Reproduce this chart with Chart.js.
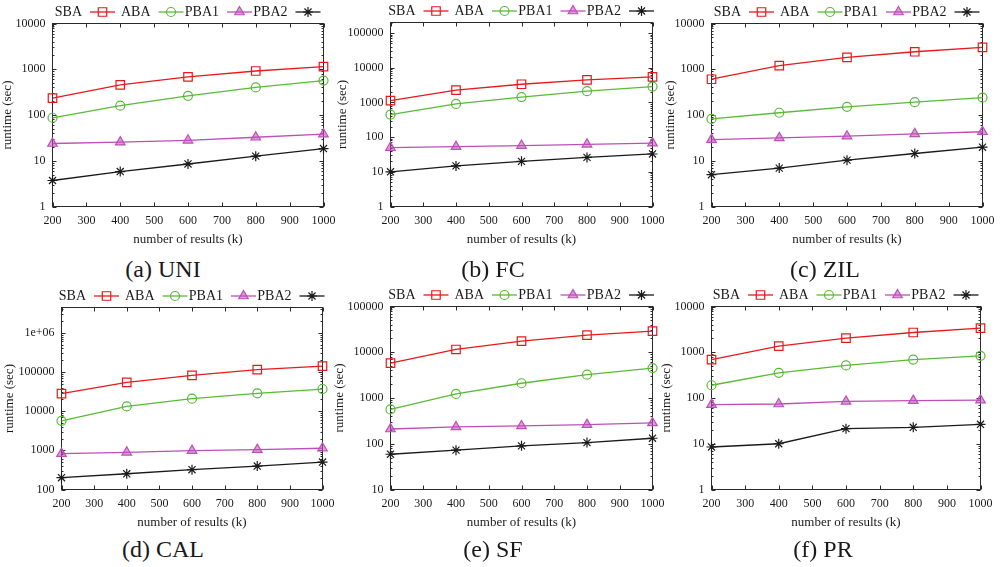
<!DOCTYPE html>
<html>
<head>
<meta charset="utf-8">
<script src="https://cdn.jsdelivr.net/npm/chart.js@4/dist/chart.umd.min.js"></script>
<style>
  body { margin: 0; background: #fff; }
  #wrap { position: relative; width: 1003px; height: 567px; overflow: hidden; background: #fff; }
  #wrap canvas { position: absolute; }
  .cap { position: absolute; font-family: "Liberation Serif", serif; font-size: 24px; color: #1a1a1a;
         transform: translate(-50%, -50%); white-space: nowrap; }
</style>
</head>
<body>
<div id="wrap"></div>
<script>
// x values and tick labels shared by all panels
const resultCounts = [200, 400, 600, 800, 1000];
const xTickValues = [200, 300, 400, 500, 600, 700, 800, 900, 1000];
const seriesNames = ['SBA', 'ABA', 'PBA1', 'PBA2'];

// (a) UNI
const uniSBA = [234, 457, 680, 915, 1140];
const uniABA = [87, 160, 263, 400, 565];
const uniPBA1 = [23.8, 25.5, 28, 32.6, 38];
const uniPBA2 = [3.7, 5.8, 8.5, 12.6, 18.5];

// (b) FC
const fcSBA = [1120, 2240, 3330, 4460, 5400];
const fcABA = [445, 900, 1420, 2100, 2850];
const fcPBA1 = [50, 53, 57, 62, 67];
const fcPBA2 = [10, 14.8, 20, 26, 32.6];

// (c) ZIL
const zilSBA = [605, 1200, 1820, 2410, 3000];
const zilABA = [82, 112, 151, 191, 239];
const zilPBA1 = [29, 31.6, 34.4, 38.6, 43];
const zilPBA2 = [4.96, 6.9, 10.3, 14.4, 19.8];

// (d) CAL
const calSBA = [27800, 54300, 81700, 115000, 140000];
const calABA = [5650, 13200, 20800, 28400, 36600];
const calPBA1 = [822, 890, 980, 1040, 1127];
const calPBA2 = [200, 252, 320, 396, 502];

// (e) SF
const sfSBA = [5770, 11500, 17500, 23700, 28900];
const sfABA = [563, 1230, 2100, 3230, 4520];
const sfPBA1 = [210, 233, 245, 262, 285];
const sfPBA2 = [59, 72.5, 90, 106, 132];

// (f) PR
const prSBA = [690, 1360, 2040, 2700, 3370];
const prABA = [190, 355, 515, 690, 835];
const prPBA1 = [71.6, 74, 84.5, 87.5, 90];
const prPBA2 = [8.5, 10, 21.4, 22.9, 26.6];

// y axis ranges
const uniRange = [1, 10000];
const fcRange = [1, 200000];
const zilRange = [1, 10000];
const calRange = [100, 4400000];
const sfRange = [10, 100000];
const prRange = [1, 10000];

const styles = [
    { color: '#e8191c', fill: 'rgba(0,0,0,0)', pointStyle: 'rect', radius: 6 },
    { color: '#58bb36', fill: 'rgba(0,0,0,0)', pointStyle: 'circle', radius: 4.5 },
    { color: '#bd4fb9', fill: 'rgba(189,79,185,0.55)', pointStyle: 'triangle', radius: 5.5 },
    { color: '#1a1a1a', fill: 'rgba(0,0,0,0)', pointStyle: 'star', radius: 5 }
];

const panels = [
    { cap: '(a) UNI', capX: 163, capY: 269, series: [uniSBA, uniABA, uniPBA1, uniPBA2], range: uniRange,
      canvasLeft: -4, canvasTop: 0, area: { left: 52.5, top: 23.5, right: 323.5, bottom: 206.5 } },
    { cap: '(b) FC', capX: 493, capY: 269, series: [fcSBA, fcABA, fcPBA1, fcPBA2], range: fcRange,
      canvasLeft: 331, canvasTop: 0, area: { left: 390.5, top: 22.5, right: 652.5, bottom: 206.5 } },
    { cap: '(c) ZIL', capX: 825, capY: 269, series: [zilSBA, zilABA, zilPBA1, zilPBA2], range: zilRange,
      canvasLeft: 659, canvasTop: 0, area: { left: 711.5, top: 23.5, right: 982.5, bottom: 206.5 } },
    { cap: '(d) CAL', capX: 163, capY: 549, series: [calSBA, calABA, calPBA1, calPBA2], range: calRange,
      canvasLeft: -2, canvasTop: 283, area: { left: 61.5, top: 307.5, right: 322.5, bottom: 489.5 } },
    { cap: '(e) SF', capX: 493, capY: 549, series: [sfSBA, sfABA, sfPBA1, sfPBA2], range: sfRange,
      canvasLeft: 328, canvasTop: 283, area: { left: 390.5, top: 306.5, right: 652.5, bottom: 489.5 } },
    { cap: '(f) PR', capX: 823, capY: 549, series: [prSBA, prABA, prPBA1, prPBA2], range: prRange,
      canvasLeft: 655, canvasTop: 283, area: { left: 711.5, top: 306.5, right: 980.5, bottom: 489.5 } }
];

const CANVAS_H = 251;

function isPow10(v) {
    const l = Math.log10(v);
    return Math.abs(l - Math.round(l)) < 1e-9;
}

function logTicks(min, max) {
    const out = [];
    for (let k = Math.floor(Math.log10(min)); k <= Math.ceil(Math.log10(max)); k++) {
        for (let d = 1; d <= 9; d++) {
            const v = Number((d * Math.pow(10, k)).toPrecision(12));
            if (v >= min * 0.999999 && v <= max * 1.000001) out.push({ value: v });
        }
    }
    return out;
}

function fmtLog(v) {
    if (v >= 1e6) return '1e+' + String(Math.round(Math.log10(v))).padStart(2, '0');
    return String(v);
}

// gnuplot-like frame with inward ticks on all four sides
const framePlugin = {
    id: 'frame',
    beforeDatasetsDraw(chart) {
        const { ctx, chartArea: a, scales: { x, y } } = chart;
        ctx.save();
        ctx.strokeStyle = '#2a2a2a';
        ctx.lineWidth = 1;
        ctx.strokeRect(a.left, a.top, a.right - a.left, a.bottom - a.top);
        ctx.beginPath();
        x.ticks.forEach(t => {
            const px = Math.round(x.getPixelForValue(t.value)) + 0.5;
            ctx.moveTo(px, a.bottom); ctx.lineTo(px, a.bottom - 4);
            ctx.moveTo(px, a.top); ctx.lineTo(px, a.top + 4);
        });
        y.ticks.forEach(t => {
            const py = Math.round(y.getPixelForValue(t.value)) + 0.5;
            const len = isPow10(t.value) ? 4 : 2;
            ctx.moveTo(a.left, py); ctx.lineTo(a.left + len, py);
            ctx.moveTo(a.right, py); ctx.lineTo(a.right - len, py);
        });
        ctx.stroke();
        ctx.restore();
    }
};

// key above the plot: label text, then the line sample with its marker
const keyPlugin = {
    id: 'key',
    afterDraw(chart) {
        const { ctx, chartArea: a } = chart;
        const start = (a.left + a.right) / 2 - 136;
        const cy = a.top - 11.5;
        ctx.save();
        ctx.font = '14px "Liberation Serif", serif';
        ctx.textBaseline = 'middle';
        ctx.textAlign = 'right';
        chart.data.datasets.forEach((ds, i) => {
            const x0 = start + 68.5 * i;
            ctx.fillStyle = '#1a1a1a';
            ctx.fillText(ds.label, x0 + 30, cy);
            ctx.strokeStyle = ds.borderColor;
            ctx.lineWidth = 1.3;
            ctx.beginPath();
            ctx.moveTo(x0 + 38, cy); ctx.lineTo(x0 + 63, cy);
            ctx.stroke();
            ctx.fillStyle = ds.pointBackgroundColor;
            ctx.lineWidth = ds.pointBorderWidth;
            Chart.helpers.drawPoint(ctx, {
                pointStyle: ds.pointStyle, radius: ds.pointRadius,
                borderWidth: ds.pointBorderWidth, rotation: 0
            }, x0 + 50.5, cy);
        });
        ctx.restore();
    }
};

const wrap = document.getElementById('wrap');

panels.forEach(p => {
    const width = Math.round(p.area.right + 24 - p.canvasLeft);
    const canvas = document.createElement('canvas');
    canvas.width = width;
    canvas.height = CANVAS_H;
    canvas.style.left = p.canvasLeft + 'px';
    canvas.style.top = p.canvasTop + 'px';
    wrap.appendChild(canvas);

    const cap = document.createElement('div');
    cap.className = 'cap';
    cap.textContent = p.cap;
    cap.style.left = p.capX + 'px';
    cap.style.top = p.capY + 'px';
    wrap.appendChild(cap);

    const yWidth = p.area.left - p.canvasLeft;
    const xHeight = p.canvasTop + CANVAS_H - p.area.bottom;

    const datasets = p.series.map((vals, i) => ({
        label: seriesNames[i],
        data: resultCounts.map((x, j) => ({ x: x, y: vals[j] })),
        borderColor: styles[i].color,
        backgroundColor: styles[i].color,
        borderWidth: 1.3,
        pointStyle: styles[i].pointStyle,
        pointRadius: styles[i].radius,
        pointBorderWidth: 1.2,
        pointBorderColor: styles[i].color,
        pointBackgroundColor: styles[i].fill,
        tension: 0,
        clip: false
    }));

    new Chart(canvas.getContext('2d'), {
        type: 'line',
        data: { datasets: datasets },
        plugins: [framePlugin, keyPlugin],
        options: {
            responsive: false,
            animation: false,
            events: [],
            layout: {
                padding: {
                    left: 0, bottom: 0,
                    top: p.area.top - p.canvasTop,
                    right: p.canvasLeft + width - p.area.right
                }
            },
            plugins: { legend: { display: false }, tooltip: { enabled: false } },
            scales: {
                x: {
                    type: 'linear',
                    min: 200, max: 1000,
                    afterBuildTicks: s => { s.ticks = xTickValues.map(v => ({ value: v })); },
                    afterFit: s => { s.height = xHeight; },
                    grid: { display: false, drawTicks: false },
                    border: { display: false },
                    ticks: {
                        autoSkip: false, maxRotation: 0, padding: 7,
                        color: '#1a1a1a',
                        font: { family: '"Liberation Serif", serif', size: 12 },
                        callback: v => String(v)
                    },
                    title: {
                        display: true, text: 'number of results (k)', color: '#1a1a1a',
                        font: { family: '"Liberation Serif", serif', size: 13 }
                    }
                },
                y: {
                    type: 'logarithmic',
                    min: p.range[0], max: p.range[1],
                    afterBuildTicks: s => { s.ticks = logTicks(p.range[0], p.range[1]); },
                    afterFit: s => { s.width = yWidth; },
                    grid: { display: false, drawTicks: false },
                    border: { display: false },
                    ticks: {
                        autoSkip: false, padding: 7,
                        color: '#1a1a1a',
                        font: { family: '"Liberation Serif", serif', size: 12 },
                        callback: v => isPow10(v) ? fmtLog(v) : ''
                    },
                    title: {
                        display: true, text: 'runtime (sec)', color: '#1a1a1a',
                        font: { family: '"Liberation Serif", serif', size: 13 }
                    }
                }
            }
        }
    });
});
</script>
</body>
</html>
